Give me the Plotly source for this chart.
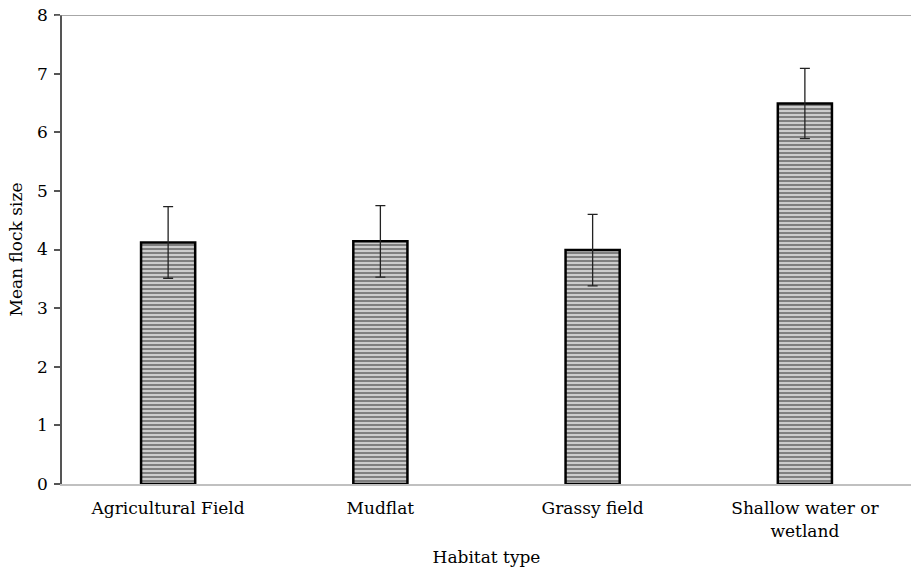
import plotly.graph_objects as go

categories = ["Agricultural Field", "Mudflat", "Grassy field", "Shallow water or<br>wetland"]
mean_flock = [4.12, 4.14, 3.99, 6.49]
error_vals = [0.61, 0.61, 0.61, 0.60]
y_ticks = [0, 1, 2, 3, 4, 5, 6, 7, 8]

FONT = "DejaVu Serif"
FS = 17

fig = go.Figure(go.Bar(
    x=categories,
    y=mean_flock,
    width=0.255,
    marker=dict(
        color="white",
        line=dict(color="black", width=2.5),
        pattern=dict(shape="-", fgcolor="black", bgcolor="white", size=4, solidity=0.7),
    ),
    error_y=dict(type="data", array=error_vals, visible=True, color="#222222", thickness=1.3, width=5),
))

fig.add_shape(type="line", xref="paper", yref="y", x0=-0.008, x1=1, y0=8, y1=8,
              line=dict(color="#8a8a8a", width=1.5))

fig.update_layout(
    width=911, height=572,
    margin=dict(l=62, r=0, t=15, b=88),
    plot_bgcolor="white", paper_bgcolor="white",
    showlegend=False,
    font=dict(family=FONT, size=FS, color="black"),
    xaxis=dict(
        range=[-0.5, 3.5],
        showline=True, linecolor="#c0c0c0", linewidth=2,
        ticks="", showgrid=False,
        tickfont=dict(family=FONT, size=FS),
        ticklabelstandoff=8,
        automargin=False,
        title=dict(text="Habitat type", font=dict(family=FONT, size=FS), standoff=12),
    ),
    yaxis=dict(
        range=[0, 8],
        tickvals=y_ticks,
        showline=True, linecolor="#555555", linewidth=1.5,
        ticks="outside", ticklen=6, tickcolor="#555555", tickwidth=1.5,
        showgrid=False, zeroline=False,
        tickfont=dict(family=FONT, size=FS),
        ticklabeloverflow="allow",
        ticklabelstandoff=3,
        automargin=False,
        title=dict(text="Mean flock size", font=dict(family=FONT, size=FS), standoff=10),
    ),
)

fig.write_html("out.html", config={"displayModeBar": False},
               post_script="document.body.style.margin='0';")
